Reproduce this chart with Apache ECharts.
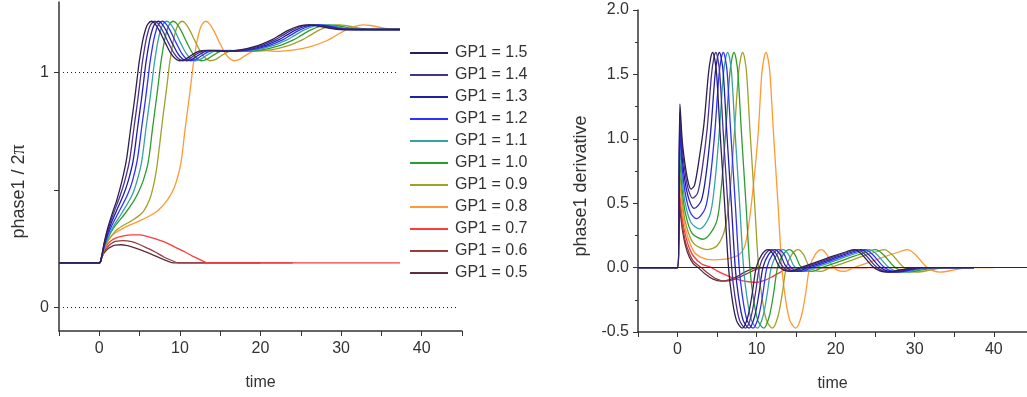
<!DOCTYPE html>
<html><head><meta charset="utf-8">
<script src="https://cdn.jsdelivr.net/npm/echarts@6/dist/echarts.min.js"></script>
<style>html,body{margin:0;padding:0;background:#fff}#c{width:1027px;height:397px}</style>
</head><body><div id="c"></div>
<script>
// ---------- labels ----------
const gpLabels = ['1.5','1.4','1.3','1.2','1.1','1.0','0.9','0.8','0.7','0.6','0.5'];
const xTickLabels = [0, 10, 20, 30, 40];
const phaseTickLabels = [0, 1];
const phaseTicks = [0, 0.5, 1];
// dotted reference levels: [level, start time, end time]
const refLines = [[1, -4.5, 37], [0, -4.5, 44.5]];

// ---------- left chart: phase1 / 2pi  ([time, value]) ----------
const phase_15 = [[-5,0.19],[0,0.19],[0.3,0.22],[0.6,0.275],[1.0,0.332],[1.4,0.378],[1.7,0.41],[2.15,0.455],[2.75,0.53],[3.35,0.625],[3.9,0.765],[4.2,0.84],[4.45,0.905],[4.75,0.99],[4.95,1.045],[5.38,1.135],[5.75,1.185],[6.0,1.205],[6.45,1.218],[6.85,1.21],[7.45,1.178],[8.2,1.125],[8.9,1.08],[9.45,1.058],[9.95,1.05],[10.65,1.056],[11.45,1.074],[12.15,1.088],[12.75,1.093],[13.45,1.094],[14.35,1.092],[15.55,1.09],[17.45,1.096],[19.45,1.112],[21.45,1.14],[22.35,1.158],[23.35,1.178],[24.85,1.198],[25.95,1.203],[26.95,1.199],[28.45,1.189],[29.95,1.183],[37.3,1.183]];
const phase_14 = [[-5,0.19],[0,0.19],[0.3,0.219],[0.6,0.27],[1.0,0.323],[1.4,0.366],[1.9,0.413],[2.55,0.472],[3.15,0.538],[3.75,0.625],[4.3,0.765],[4.6,0.84],[4.85,0.905],[5.15,0.99],[5.35,1.045],[5.78,1.135],[6.15,1.185],[6.4,1.205],[6.85,1.218],[7.25,1.21],[7.85,1.178],[8.6,1.125],[9.3,1.08],[9.85,1.058],[10.35,1.05],[11.05,1.056],[11.85,1.074],[12.55,1.088],[13.15,1.093],[13.85,1.094],[14.75,1.092],[15.95,1.09],[17.85,1.096],[19.85,1.112],[21.85,1.14],[22.75,1.158],[23.75,1.178],[25.25,1.198],[26.35,1.203],[27.35,1.199],[28.85,1.189],[30.35,1.183],[37.3,1.183]];
const phase_13 = [[-5,0.19],[0,0.19],[0.3,0.217],[0.6,0.265],[1.0,0.314],[1.5,0.361],[2.1,0.409],[3.0,0.48],[3.6,0.54],[4.2,0.625],[4.75,0.765],[5.05,0.84],[5.3,0.905],[5.6,0.99],[5.8,1.045],[6.23,1.135],[6.6,1.185],[6.85,1.205],[7.3,1.218],[7.7,1.21],[8.3,1.178],[9.05,1.125],[9.75,1.08],[10.3,1.058],[10.8,1.05],[11.5,1.056],[12.3,1.074],[13.0,1.088],[13.6,1.093],[14.3,1.094],[15.2,1.092],[16.4,1.09],[18.3,1.096],[20.3,1.112],[22.3,1.14],[23.2,1.158],[24.2,1.178],[25.7,1.198],[26.8,1.203],[27.8,1.199],[29.3,1.189],[30.8,1.183],[37.3,1.183]];
const phase_12 = [[-5,0.19],[0,0.19],[0.3,0.215],[0.6,0.26],[1.0,0.303],[1.6,0.352],[2.4,0.405],[3.5,0.48],[4.1,0.537],[4.7,0.625],[5.25,0.765],[5.55,0.84],[5.8,0.905],[6.1,0.99],[6.3,1.045],[6.73,1.135],[7.1,1.185],[7.35,1.205],[7.8,1.218],[8.2,1.21],[8.8,1.178],[9.55,1.125],[10.25,1.08],[10.8,1.058],[11.3,1.05],[12.0,1.056],[12.8,1.074],[13.5,1.088],[14.1,1.093],[14.8,1.094],[15.7,1.092],[16.9,1.09],[18.8,1.096],[20.8,1.112],[22.8,1.14],[23.7,1.158],[24.7,1.178],[26.2,1.198],[27.3,1.203],[28.3,1.199],[29.8,1.189],[31.3,1.183],[37.3,1.183]];
const phase_11 = [[-5,0.19],[0,0.19],[0.3,0.213],[0.6,0.253],[1.0,0.292],[1.7,0.342],[2.8,0.402],[4.05,0.477],[4.65,0.535],[5.25,0.62],[5.8,0.765],[6.1,0.84],[6.35,0.905],[6.65,0.99],[6.85,1.045],[7.28,1.135],[7.65,1.185],[7.9,1.205],[8.35,1.218],[8.75,1.21],[9.35,1.178],[10.1,1.125],[10.8,1.08],[11.35,1.058],[11.85,1.05],[12.55,1.056],[13.35,1.074],[14.05,1.088],[14.65,1.093],[15.35,1.094],[16.25,1.092],[17.45,1.09],[19.35,1.096],[21.35,1.112],[23.35,1.14],[24.25,1.158],[25.25,1.178],[26.75,1.198],[27.85,1.203],[28.85,1.199],[30.35,1.189],[31.85,1.183],[37.3,1.183]];
const phase_10 = [[-5,0.19],[0,0.19],[0.3,0.213],[0.6,0.255],[1.0,0.29],[1.8,0.34],[3.2,0.4],[4.3,0.455],[4.85,0.49],[5.45,0.54],[6.05,0.615],[6.6,0.76],[6.9,0.84],[7.15,0.905],[7.45,0.99],[7.65,1.045],[8.08,1.135],[8.45,1.185],[8.7,1.205],[9.15,1.218],[9.55,1.21],[10.15,1.178],[10.9,1.125],[11.6,1.08],[12.15,1.058],[12.65,1.05],[13.35,1.056],[14.15,1.074],[14.85,1.088],[15.45,1.093],[16.15,1.094],[17.05,1.092],[18.25,1.09],[20.15,1.096],[22.15,1.112],[24.15,1.14],[25.05,1.158],[26.05,1.178],[27.55,1.198],[28.65,1.203],[29.65,1.199],[31.15,1.189],[32.65,1.183],[37.3,1.183]];
const phase_09 = [[-5,0.19],[0,0.19],[0.3,0.212],[0.6,0.25],[1.0,0.28],[2.0,0.325],[3.0,0.35],[3.8,0.365],[4.7,0.385],[5.5,0.41],[6.3,0.465],[6.8,0.53],[7.15,0.6],[7.7,0.755],[8.0,0.84],[8.25,0.905],[8.55,0.99],[8.75,1.045],[9.18,1.135],[9.55,1.185],[9.8,1.205],[10.25,1.218],[10.65,1.21],[11.25,1.178],[12.0,1.125],[12.7,1.08],[13.25,1.058],[13.75,1.05],[14.45,1.056],[15.25,1.074],[15.95,1.088],[16.55,1.093],[17.25,1.094],[18.15,1.092],[19.35,1.09],[21.25,1.096],[23.25,1.112],[25.25,1.14],[26.15,1.158],[27.15,1.178],[28.65,1.198],[29.75,1.203],[30.75,1.199],[32.25,1.189],[33.75,1.183],[37.3,1.183]];
const phase_08 = [[-5,0.19],[0,0.19],[0.3,0.213],[0.6,0.248],[1.0,0.28],[1.5,0.303],[2.0,0.318],[3.0,0.338],[4.0,0.354],[5.0,0.369],[6.0,0.385],[7.0,0.405],[7.5,0.42],[8.0,0.438],[8.5,0.46],[9.0,0.488],[9.5,0.53],[10.1,0.61],[10.65,0.76],[10.95,0.84],[11.2,0.905],[11.5,0.99],[11.7,1.045],[12.13,1.135],[12.5,1.185],[12.75,1.205],[13.2,1.218],[13.6,1.21],[14.2,1.178],[14.95,1.125],[15.65,1.08],[16.2,1.058],[16.7,1.05],[17.4,1.056],[18.2,1.074],[18.9,1.088],[19.5,1.093],[20.2,1.094],[21.1,1.092],[22.3,1.09],[24.2,1.096],[26.2,1.11],[28.2,1.135],[29.1,1.152],[30.1,1.172],[31.6,1.195],[32.7,1.203],[33.7,1.2],[35.2,1.19],[36.7,1.183],[37.3,1.183]];
const phase_07 = [[-5,0.19],[0,0.19],[0.3,0.215],[0.6,0.245],[1.0,0.268],[1.5,0.285],[2.0,0.295],[3.0,0.305],[4.0,0.309],[5.0,0.309],[6.0,0.302],[7.0,0.292],[8.0,0.28],[8.6,0.271],[9.5,0.255],[10.7,0.235],[11.5,0.22],[12.3,0.207],[13.0,0.195],[13.5,0.19],[37.3,0.19]];
const phase_06 = [[-5,0.19],[0,0.19],[0.3,0.213],[0.6,0.238],[1.0,0.257],[1.5,0.272],[2.0,0.281],[3.0,0.285],[4.0,0.28],[5.0,0.268],[6.0,0.252],[7.0,0.235],[8.0,0.215],[9.0,0.2],[9.8,0.19],[24.0,0.19]];
const phase_05 = [[-5,0.19],[0,0.19],[0.3,0.212],[0.6,0.232],[1.0,0.248],[1.5,0.259],[2.0,0.265],[2.6,0.267],[3.5,0.263],[4.5,0.253],[5.5,0.24],[6.5,0.226],[7.5,0.211],[8.5,0.197],[9.2,0.19],[20.0,0.19]];

// ---------- right chart: phase1 derivative ([time, value]) ----------
const deriv_15 = [[-5,0],[0,0],[0.3,1.27],[0.6,0.98],[1.0,0.78],[1.4,0.65],[1.7,0.61],[2.15,0.64],[2.75,0.85],[3.35,1.12],[3.9,1.5],[4.2,1.63],[4.45,1.67],[4.7,1.62],[4.95,1.5],[5.38,1.05],[5.95,0.5],[6.45,0],[6.85,-0.22],[7.45,-0.41],[8.2,-0.47],[8.9,-0.38],[9.45,-0.2],[9.95,0],[10.65,0.1],[11.45,0.14],[12.15,0.1],[12.75,0.02],[13.45,-0.02],[14.35,-0.03],[15.55,0],[17.45,0.04],[19.45,0.085],[21.45,0.125],[22.35,0.14],[23.35,0.1],[24.85,0],[26.45,-0.035],[28.45,-0.015],[29.95,0],[37.5,0]];
const deriv_14 = [[-5,0],[0,0],[0.3,1.2],[0.6,0.92],[1.0,0.72],[1.4,0.6],[1.9,0.54],[2.55,0.58],[3.15,0.78],[3.75,1.08],[4.3,1.5],[4.6,1.63],[4.85,1.67],[5.1,1.62],[5.35,1.5],[5.78,1.05],[6.35,0.5],[6.85,0],[7.25,-0.22],[7.85,-0.41],[8.6,-0.47],[9.3,-0.38],[9.85,-0.2],[10.35,0],[11.05,0.1],[11.85,0.14],[12.55,0.1],[13.15,0.02],[13.85,-0.02],[14.75,-0.03],[15.95,0],[17.85,0.04],[19.85,0.085],[21.85,0.125],[22.75,0.14],[23.75,0.1],[25.25,0],[26.85,-0.035],[28.85,-0.015],[30.35,0],[37.5,0]];
const deriv_13 = [[-5,0],[0,0],[0.3,1.12],[0.6,0.85],[1.0,0.65],[1.5,0.52],[2.1,0.46],[3.0,0.52],[3.6,0.72],[4.2,1.06],[4.75,1.5],[5.05,1.63],[5.3,1.67],[5.55,1.62],[5.8,1.5],[6.23,1.05],[6.8,0.5],[7.3,0],[7.7,-0.22],[8.3,-0.41],[9.05,-0.47],[9.75,-0.38],[10.3,-0.2],[10.8,0],[11.5,0.1],[12.3,0.14],[13.0,0.1],[13.6,0.02],[14.3,-0.02],[15.2,-0.03],[16.4,0],[18.3,0.04],[20.3,0.085],[22.3,0.125],[23.2,0.14],[24.2,0.1],[25.7,0],[27.3,-0.035],[29.3,-0.015],[30.8,0],[37.5,0]];
const deriv_12 = [[-5,0],[0,0],[0.3,1.03],[0.6,0.77],[1.0,0.57],[1.6,0.43],[2.4,0.38],[3.5,0.46],[4.1,0.67],[4.7,1.04],[5.25,1.5],[5.55,1.63],[5.8,1.67],[6.05,1.62],[6.3,1.5],[6.73,1.05],[7.3,0.5],[7.8,0],[8.2,-0.22],[8.8,-0.41],[9.55,-0.47],[10.25,-0.38],[10.8,-0.2],[11.3,0],[12.0,0.1],[12.8,0.14],[13.5,0.1],[14.1,0.02],[14.8,-0.02],[15.7,-0.03],[16.9,0],[18.8,0.04],[20.8,0.085],[22.8,0.125],[23.7,0.14],[24.7,0.1],[26.2,0],[27.8,-0.035],[29.8,-0.015],[31.3,0],[37.5,0]];
const deriv_11 = [[-5,0],[0,0],[0.3,0.93],[0.6,0.68],[1.0,0.49],[1.7,0.35],[2.8,0.3],[4.05,0.4],[4.65,0.62],[5.25,1.03],[5.8,1.5],[6.1,1.63],[6.35,1.67],[6.6,1.62],[6.85,1.5],[7.28,1.05],[7.85,0.5],[8.35,0],[8.75,-0.22],[9.35,-0.41],[10.1,-0.47],[10.8,-0.38],[11.35,-0.2],[11.85,0],[12.55,0.1],[13.35,0.14],[14.05,0.1],[14.65,0.02],[15.35,-0.02],[16.25,-0.03],[17.45,0],[19.35,0.04],[21.35,0.085],[23.35,0.125],[24.25,0.14],[25.25,0.1],[26.75,0],[28.35,-0.035],[30.35,-0.015],[31.85,0],[37.5,0]];
const deriv_10 = [[-5,0],[0,0],[0.3,0.83],[0.6,0.6],[1.0,0.42],[1.8,0.27],[3.2,0.22],[4.85,0.34],[5.45,0.57],[6.05,1.02],[6.6,1.5],[6.9,1.63],[7.15,1.67],[7.4,1.62],[7.65,1.5],[8.08,1.05],[8.65,0.5],[9.15,0],[9.55,-0.22],[10.15,-0.41],[10.9,-0.47],[11.6,-0.38],[12.15,-0.2],[12.65,0],[13.35,0.1],[14.15,0.14],[14.85,0.1],[15.45,0.02],[16.15,-0.02],[17.05,-0.03],[18.25,0],[20.15,0.04],[22.15,0.085],[24.15,0.125],[25.05,0.14],[26.05,0.1],[27.55,0],[29.15,-0.035],[31.15,-0.015],[32.65,0],[37.5,0]];
const deriv_09 = [[-5,0],[0,0],[0.3,0.73],[0.6,0.52],[1.0,0.35],[2.0,0.19],[3.8,0.14],[5.0,0.17],[5.95,0.29],[6.55,0.53],[7.15,1.01],[7.7,1.5],[8.0,1.63],[8.25,1.67],[8.5,1.62],[8.75,1.5],[9.18,1.05],[9.75,0.5],[10.25,0],[10.65,-0.22],[11.25,-0.41],[12.0,-0.47],[12.7,-0.38],[13.25,-0.2],[13.75,0],[14.45,0.1],[15.25,0.14],[15.95,0.1],[16.55,0.02],[17.25,-0.02],[18.15,-0.03],[19.35,0],[21.25,0.04],[23.25,0.085],[25.25,0.125],[26.15,0.14],[27.15,0.1],[28.65,0],[30.25,-0.035],[32.25,-0.015],[33.75,0],[37.5,0]];
const deriv_08 = [[-5,0],[0,0],[0.3,0.64],[0.6,0.45],[1.0,0.3],[2.0,0.13],[3.0,0.08],[4.5,0.06],[6.0,0.065],[7.0,0.08],[7.8,0.1],[8.4,0.15],[8.8,0.25],[9.35,0.5],[10.15,1.0],[10.65,1.5],[10.95,1.63],[11.2,1.67],[11.45,1.62],[11.7,1.5],[12.13,1.05],[12.7,0.5],[13.2,0],[13.6,-0.22],[14.2,-0.41],[14.95,-0.47],[15.65,-0.38],[16.2,-0.2],[16.7,0],[17.4,0.1],[18.2,0.14],[18.9,0.1],[19.5,0.02],[20.2,-0.02],[21.1,-0.03],[22.3,0],[24.2,0.04],[26.2,0.085],[28.2,0.125],[29.1,0.14],[30.1,0.1],[31.6,0],[33.2,-0.035],[35.2,-0.015],[36.7,0],[40,0]];
const deriv_07 = [[-5,0],[0,0],[0.3,0.56],[0.6,0.38],[1.0,0.25],[1.5,0.15],[2.0,0.09],[3.0,0.03],[4.3,0],[5.0,-0.025],[6.0,-0.055],[7.0,-0.08],[8.0,-0.1],[9.0,-0.11],[10.0,-0.114],[11.0,-0.1],[12.0,-0.07],[13.0,-0.035],[14.0,-0.005],[14.5,0],[37.5,0]];
const deriv_06 = [[-5,0],[0,0],[0.3,0.5],[0.6,0.33],[1.0,0.2],[1.5,0.11],[2.0,0.05],[3.0,0],[4.0,-0.05],[5.0,-0.09],[5.9,-0.105],[7.0,-0.095],[8.0,-0.07],[9.0,-0.04],[10.0,-0.012],[10.8,0],[24.0,0]];
const deriv_05 = [[-5,0],[0,0],[0.3,0.45],[0.6,0.3],[1.0,0.17],[1.5,0.08],[2.0,0.03],[2.6,0],[3.5,-0.05],[4.5,-0.09],[5.5,-0.105],[6.5,-0.095],[7.5,-0.07],[8.5,-0.035],[9.5,-0.008],[10.2,0],[20.0,0]];

const phaseSeries = [phase_15, phase_14, phase_13, phase_12, phase_11, phase_10, phase_09, phase_08, phase_07, phase_06, phase_05];
const derivSeries = [deriv_15, deriv_14, deriv_13, deriv_12, deriv_11, deriv_10, deriv_09, deriv_08, deriv_07, deriv_06, deriv_05];

// ---------- styles ----------
const colors = ['#2c1f52','#4b2f8f','#1f1fa8','#3030ff','#36a3a3','#2e9c2e','#a0a02a','#ff9933','#ff3b3b','#9a3c3c','#5e2f3e'];
const FONT = 'Liberation Sans, Arial, sans-serif';
const AX = '#333333';

const chart = echarts.init(document.getElementById('c'), null, {renderer: 'canvas'});

function xAxisFor(idx, maxVal) {
  return {
    gridIndex: idx, type: 'value', min: -5, max: maxVal, interval: 5,
    axisLine: {show: true, onZero: false, lineStyle: {color: AX, width: 1.5}},
    axisTick: {show: true, length: 5, lineStyle: {color: AX, width: 1}},
    axisLabel: {customValues: xTickLabels, formatter: v => String(v), fontSize: 16, color: AX, margin: 10, fontFamily: FONT},
    splitLine: {show: false},
    name: 'time', nameLocation: 'middle', nameGap: 44,
    nameTextStyle: {fontSize: 16, color: AX, fontFamily: FONT}
  };
}

const series = [];
// dotted reference lines (left)
series.push({
  type: 'line', xAxisIndex: 0, yAxisIndex: 0, data: [], silent: true,
  markLine: {silent: true, symbol: 'none', label: {show: false},
    lineStyle: {color: '#222', width: 1, type: [1, 3]},
    data: refLines.map(r => [{coord: [r[1], r[0]]}, {coord: [r[2], r[0]]}])}
});
// zero line (right)
series.push({
  type: 'line', xAxisIndex: 1, yAxisIndex: 1, data: [], silent: true,
  markLine: {silent: true, symbol: 'none', label: {show: false},
    lineStyle: {color: '#2a2440', width: 1.2, type: 'solid'},
    data: [{yAxis: 0}]}
});
for (let i = gpLabels.length - 1; i >= 0; i--) {
  const name = 'GP1 = ' + gpLabels[i];
  series.push({
    name, type: 'line', xAxisIndex: 0, yAxisIndex: 0, data: phaseSeries[i],
    symbol: 'none', smooth: 0.3, color: colors[i],
    lineStyle: {width: 1.3, color: colors[i]}
  });
  series.push({
    name, type: 'line', xAxisIndex: 1, yAxisIndex: 1, data: derivSeries[i],
    symbol: 'none', smooth: 0.3, color: colors[i],
    lineStyle: {width: 1.3, color: colors[i]}
  });
}

chart.setOption({
  animation: false,
  backgroundColor: '#ffffff',
  textStyle: {fontFamily: FONT},
  grid: [
    {left: 59, top: 2, width: 403, height: 329},
    {left: 638, top: 10, width: 389, height: 322}
  ],
  xAxis: [xAxisFor(0, 45), xAxisFor(1, 44.2)],
  yAxis: [
    {
      gridIndex: 0, type: 'value', min: -0.1, max: 1.3,
      axisLine: {show: true, onZero: false, lineStyle: {color: AX, width: 1.5}},
      axisTick: {show: true, customValues: phaseTicks, length: 5, lineStyle: {color: AX}},
      axisLabel: {customValues: phaseTickLabels, formatter: v => String(v), fontSize: 16, color: AX, margin: 10, fontFamily: FONT},
      splitLine: {show: false},
      name: 'phase1 / 2{pi|π}', nameLocation: 'middle', nameGap: 30, nameRotate: 90,
      nameTextStyle: {fontSize: 18, color: AX, fontFamily: FONT, padding: [0, 50, 0, 0],
        rich: {pi: {fontSize: 20, color: AX, fontFamily: 'Liberation Serif, DejaVu Serif, serif'}}}
    },
    {
      gridIndex: 1, type: 'value', min: -0.5, max: 2.0, interval: 0.5,
      axisLine: {show: true, onZero: false, lineStyle: {color: AX, width: 1.5}},
      axisTick: {show: true, length: 5, lineStyle: {color: AX}},
      minorTick: {show: true, splitNumber: 2, length: 3, lineStyle: {color: AX}},
      axisLabel: {formatter: v => v.toFixed(1), fontSize: 16, color: AX, margin: 9, fontFamily: FONT},
      splitLine: {show: false},
      name: 'phase1 derivative', nameLocation: 'middle', nameGap: 48, nameRotate: 90,
      nameTextStyle: {fontSize: 18, color: AX, fontFamily: FONT, padding: [0, 30, 0, 0]}
    }
  ],
  legend: {
    data: gpLabels.map(g => 'GP1 = ' + g),
    orient: 'vertical', left: 410, top: 45, padding: 0,
    icon: 'rect', itemWidth: 38, itemHeight: 2, itemGap: 6,
    textStyle: {fontSize: 16, color: AX, lineHeight: 16, fontFamily: FONT, padding: [0, 0, 0, 2]}
  },
  series
});
</script></body></html>
